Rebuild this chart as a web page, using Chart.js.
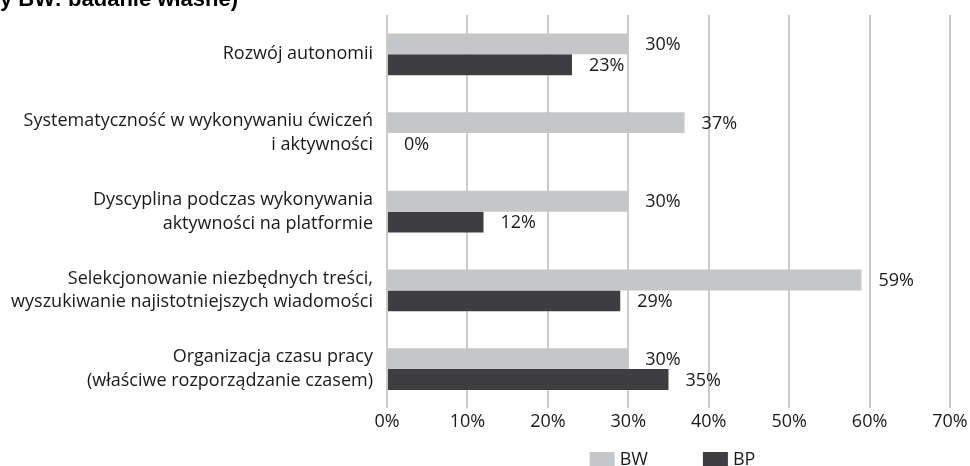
<!DOCTYPE html>
<html lang="pl">
<head>
<meta charset="utf-8">
<script src="https://cdn.jsdelivr.net/npm/chart.js@4.4.1/dist/chart.umd.min.js"></script>
<style>
    html, body {
        margin: 0;
        padding: 0;
        background: #ffffff;
        overflow: hidden;
    }
    #wrap {
        position: relative;
        width: 970px;
        height: 466px;
    }
    #source {
        position: absolute;
        left: 0;
        top: -12px;
        line-height: 1;
        font-family: "Liberation Sans Narrow", "Liberation Sans", sans-serif;
        font-weight: bold;
        font-size: 22px;
        color: #000000;
        white-space: nowrap;
        z-index: 2;
    }
</style>
</head>
<body>

<div id="wrap">
    <div id="source">y BW: badanie własne)</div>
    <canvas id="skillsChart" width="970" height="466"></canvas>
</div>

<script>

// ==========================================
// Data
// ==========================================

const categories = [
    ["Rozwój autonomii"],
    ["Systematyczność w wykonywaniu ćwiczeń", "i aktywności"],
    ["Dyscyplina podczas wykonywania", "aktywności na platformie"],
    ["Selekcjonowanie niezbędnych treści,", "wyszukiwanie najistotniejszych wiadomości"],
    ["Organizacja czasu pracy", "(właściwe rozporządzanie czasem)"]
];

const seriesNames = ["BW", "BP"];

const valuesBW = [30, 37, 30, 59, 30];

const valuesBP = [23, 0, 12, 29, 35];

const xTicks = [0, 10, 20, 30, 40, 50, 60, 70];

const FONT = "'Open Sans'";
const TEXT = "#1a1a1a";


// ==========================================
// Value labels next to the bars
// ==========================================

const barLabels = {

    id: "barLabels",

    afterDatasetsDraw(chart) {

        const ctx = chart.ctx;

        ctx.save();
        ctx.font = "18px " + FONT;
        ctx.fillStyle = TEXT;
        ctx.textAlign = "left";
        ctx.textBaseline = "middle";

        chart.data.datasets.forEach((ds, i) => {

            const meta = chart.getDatasetMeta(i);

            meta.data.forEach((bar, j) => {
                ctx.fillText(ds.data[j] + "%", bar.x + 17, bar.y + 1);
            });

        });

        ctx.restore();
    }
};


// ==========================================
// Legend, centred under the plot area
// ==========================================

const plotLegend = {

    id: "plotLegend",

    afterDraw(chart) {

        const ctx = chart.ctx;
        const area = chart.chartArea;
        const boxW = 25, boxH = 16, gap = 5, spacing = 55;

        ctx.save();
        ctx.font = "18px " + FONT;
        ctx.textBaseline = "middle";
        ctx.textAlign = "left";

        const items = chart.data.datasets.map(ds => ({
            text: ds.label,
            color: ds.backgroundColor,
            width: boxW + gap + ctx.measureText(ds.label).width
        }));

        const total = items.reduce((s, it) => s + it.width, 0) + spacing * (items.length - 1);

        let x = (area.left + area.right) / 2 - total / 2 + 4;
        const top = 452;

        items.forEach(it => {
            ctx.fillStyle = it.color;
            ctx.fillRect(x, top, boxW, boxH);
            ctx.fillStyle = TEXT;
            ctx.fillText(it.text, x + boxW + gap, top + 8);
            x += it.width + spacing;
        });

        ctx.restore();
    }
};


// ==========================================
// Chart
// ==========================================

function loadChart(){

    const ctx = document.getElementById("skillsChart");

    new Chart(ctx,{

        type:"bar",

        data:{
            labels:categories,
            datasets:[
                {
                    label:seriesNames[0],
                    data:valuesBW,
                    backgroundColor:"#c5c6c8"
                },
                {
                    label:seriesNames[1],
                    data:valuesBP,
                    backgroundColor:"#3e3e40"
                }
            ]
        },

        options:{

            indexAxis:"y",
            responsive:false,
            animation:false,

            categoryPercentage:0.53,
            barPercentage:1,

            layout:{
                padding:{ top:15, right:20, bottom:30, left:0 }
            },

            scales:{

                x:{
                    min:0,
                    max:70,
                    afterBuildTicks:scale => {
                        scale.ticks = xTicks.map(v => ({ value:v }));
                    },
                    afterFit:scale => {
                        scale.paddingLeft = 0;
                        scale.paddingRight = 0;
                    },
                    grid:{
                        color:"#cacaca",
                        lineWidth:2,
                        drawTicks:false
                    },
                    border:{ display:false },
                    ticks:{
                        padding:3,
                        color:TEXT,
                        font:{ family:FONT, size:18 },
                        callback:v => v + "%"
                    }
                },

                y:{
                    grid:{ display:false, drawTicks:false },
                    border:{ display:false },
                    afterFit:scale => {
                        scale.width = 387;
                        scale.paddingTop = 0;
                        scale.paddingBottom = 0;
                    },
                    ticks:{
                        padding:14,
                        color:TEXT,
                        font:{ family:FONT, size:18, lineHeight:1.3 }
                    }
                }
            },

            plugins:{
                legend:{ display:false },
                tooltip:{ enabled:false }
            }
        },

        plugins:[barLabels, plotLegend]

    });

}

loadChart();

</script>
</body>
</html>
